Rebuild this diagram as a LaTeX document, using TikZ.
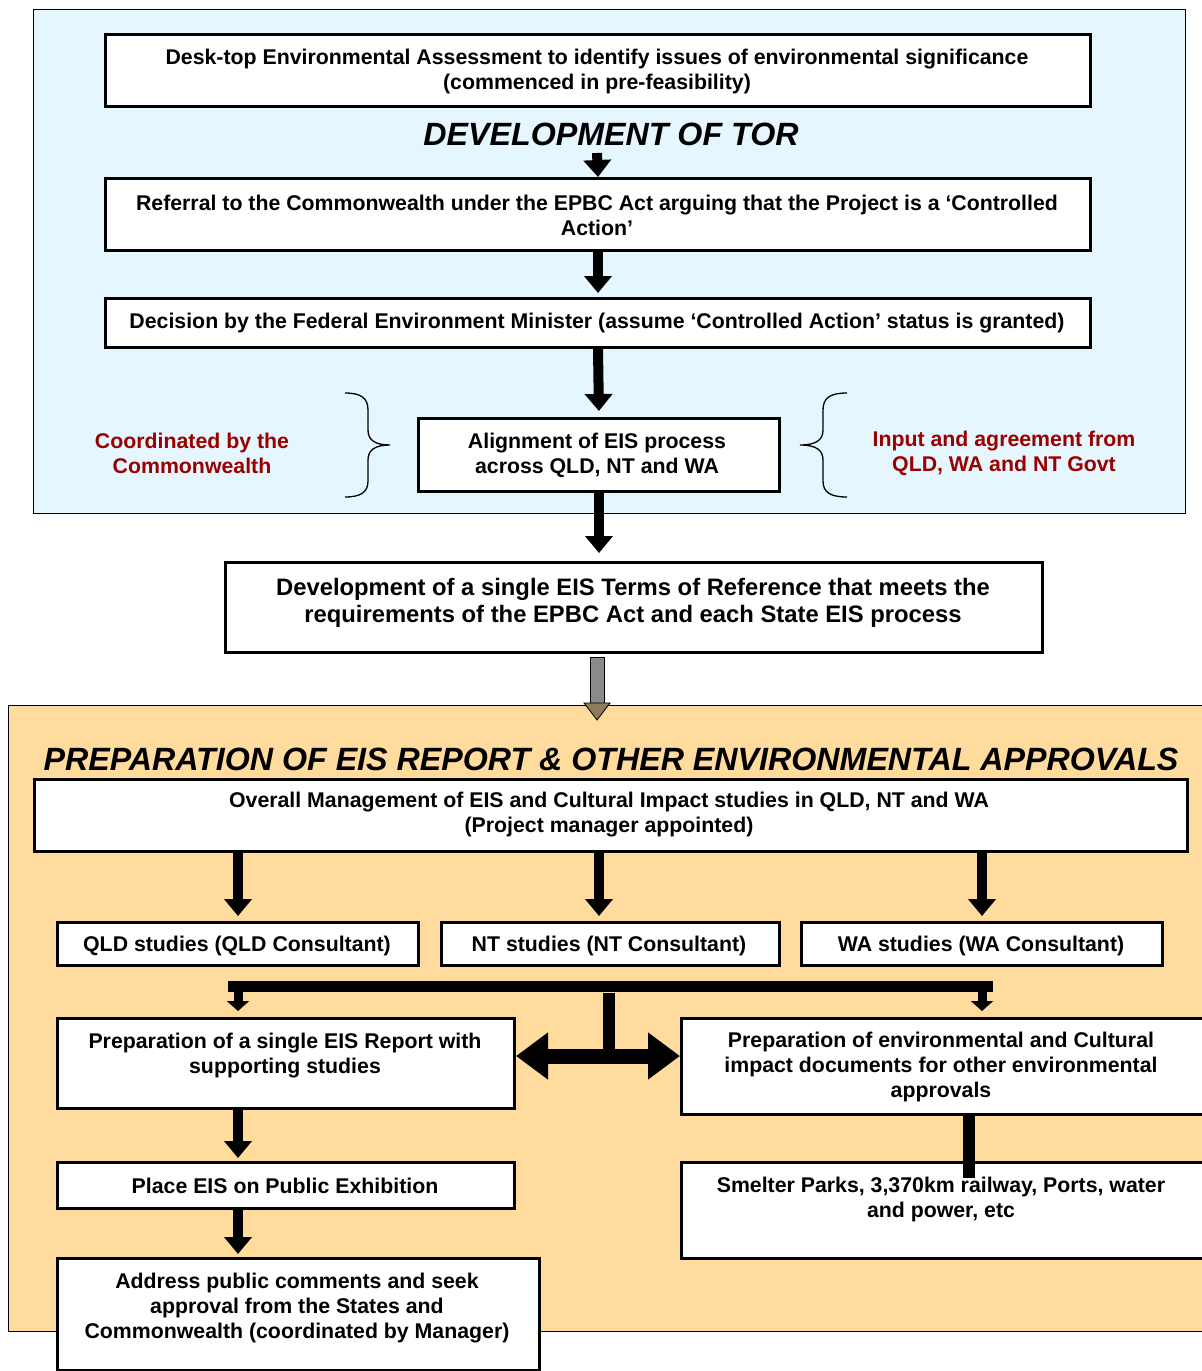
\documentclass[tikz,border=0pt]{standalone}
\usepackage{fontspec}
\setmainfont{Liberation Sans}
\usetikzlibrary{arrows.meta,calc}
\definecolor{paleblue}{HTML}{E6F6FE}
\definecolor{paleorange}{HTML}{FFDB9D}
\definecolor{darkred}{HTML}{990000}
\definecolor{headbrown}{HTML}{8C7B5C}
\definecolor{shaftgray}{HTML}{8A8A8A}
\newcommand\bodyfont{\fontsize{21.3}{25}\selectfont\bfseries}
\newcommand\bigfont{\fontsize{23.8}{27}\selectfont\bfseries}
\newcommand\titlefont{\fontsize{32.2}{36}\selectfont\bfseries\itshape}
\begin{document}
\begin{tikzpicture}[x=1pt,y=-1pt,
  frame/.style={draw=black,line width=3pt,fill=white,inner sep=0pt,anchor=north west},
  txt/.style={align=center,inner sep=0pt,font=\bodyfont},
  redtxt/.style={align=center,inner sep=0pt,font=\bodyfont,text=darkred},
  ttl/.style={inner sep=0pt,font=\titlefont},
  blk/.style={draw=black,line width=10pt,-{Triangle[length=17pt,width=27pt]}},
  blksmall/.style={draw=black,line width=9pt,-{Triangle[length=10pt,width=22pt]}},
  bar/.style={draw=black,line width=11pt},
  bracestyle/.style={draw=black,line width=1.3pt}]
\useasboundingbox (0,0) rectangle (1202,1371);
\fill[white] (0,0) rectangle (1202,1371);
% panels
\draw[fill=paleblue,line width=1pt] (33,9) rectangle (1185,513);
\draw[fill=paleorange,line width=1pt] (8,705) rectangle (1215,1331);

% top boxes
\node[frame,minimum width=985pt,minimum height=72pt] (b1) at (104,33) {};
\node[txt] (t1) at (597,71) {Desk-top Environmental Assessment to identify issues of environmental significance\\(commenced in pre-feasibility)};
\node[ttl] (tor) at (611,134) {DEVELOPMENT OF TOR};
\node[frame,minimum width=985pt,minimum height=72pt] (b2) at (104,177) {};
\node[txt] (t2) at (597,215) {Referral to the Commonwealth under the EPBC Act arguing that the Project is a ‘Controlled\\Action’};
\node[frame,minimum width=985pt,minimum height=49pt] (b3) at (104,297) {};
\node[txt] (t3) at (597,323) {Decision by the Federal Environment Minister (assume ‘Controlled Action’ status is granted)};
\node[frame,minimum width=361pt,minimum height=73pt] (b4) at (417,417) {};
\node[txt] (t4) at (597,455) {Alignment of EIS process\\across QLD, NT and WA};
\node[redtxt] (lc) at (192,453) {Coordinated by the\\Commonwealth};
\node[redtxt] (rc) at (1004,453) {Input and agreement from\\QLD, WA and NT Govt};
% braces
\draw[bracestyle] (345,393) .. controls (361,393) and (368,398) .. (368,410) -- (368,430) .. controls (368,440) and (375,445) .. (390,445) .. controls (375,445) and (368,450) .. (368,460) -- (368,481) .. controls (368,492) and (361,497) .. (345,497);
\draw[bracestyle] (847,393) .. controls (830,393) and (823,398) .. (823,410) -- (823,430) .. controls (823,440) and (816,445) .. (800,445) .. controls (816,445) and (823,450) .. (823,460) -- (823,481) .. controls (823,492) and (830,497) .. (847,497);

\node[frame,minimum width=817pt,minimum height=90pt] (b5) at (224,561) {};
\node[txt,font=\bigfont] (t5) at (633,603) {Development of a single EIS Terms of Reference that meets the\\requirements of the EPBC Act and each State EIS process};

% top arrows
\coordinate (a1) at (597,153);
\draw[blk] (a1) -- (b2.north);
\draw[blk,shorten >=4pt] (b2.south) -- (b3.north);
\draw[blk,shorten >=6pt] (b3.south) -- (b4.north);
\draw[blk,shorten >=8pt] (b4.south) -- (b4.south |- b5.north);

% gray arrow
\draw[fill=shaftgray,line width=0.8pt] (590,657) rectangle (604,703);
\draw[fill=headbrown,line width=0.8pt] (584,703) -- (610,703) -- (597,720) -- cycle;

% lower section
\node[ttl] (prepttl) at (611,759) {PREPARATION OF EIS REPORT \& OTHER ENVIRONMENTAL APPROVALS};
\node[frame,minimum width=1153pt,minimum height=72pt] (b6) at (33,778) {};
\node[txt] (t6) at (609,815) {Overall Management of EIS and Cultural Impact studies in QLD, NT and WA\\(Project manager appointed)};
\node[frame,minimum width=361pt,minimum height=43pt] (qld) at (56,921) {};
\node[txt] (tq) at (237,946) {QLD studies (QLD Consultant)};
\node[frame,minimum width=338pt,minimum height=43pt] (nt) at (440,921) {};
\node[txt] (tn) at (609,946) {NT studies (NT Consultant)};
\node[frame,minimum width=361pt,minimum height=43pt] (wa) at (800,921) {};
\node[txt] (tw) at (981,946) {WA studies (WA Consultant)};

\draw[blk,shorten >=5pt] (b6.south -| qld.north) -- (qld.north);
\draw[blk,shorten >=5pt] (b6.south -| b4.south) -- (b4.south |- nt.north);
\draw[blk,shorten >=5pt] (b6.south -| wa.north) -- (wa.north);

\node[frame,minimum width=457pt,minimum height=90pt] (prep) at (56,1017) {};
\node[txt] (tp) at (285,1056) {Preparation of a single EIS Report with\\supporting studies};
\node[frame,minimum width=522pt,minimum height=96pt] (rprep) at (680,1017) {};
\node[txt] (trp) at (941,1067) {Preparation of environmental and Cultural\\impact documents for other environmental\\approvals};

% bus
\coordinate (busL) at (228,986);
\coordinate (busR) at (993,986);
\draw[bar] (busL) -- (busR);
\draw[blksmall,shorten >=6pt] (qld.south |- busL) -- (qld.south |- prep.north);
\draw[blksmall,shorten >=6pt] (wa.south |- busL) -- (wa.south |- rprep.north);
\coordinate (stemtop) at (609,993);
\coordinate (stembot) at (609,1056);
\draw[draw=black,line width=12pt] (stemtop) -- (stembot);
\draw[draw=black,line width=15pt,{Triangle[length=32pt,width=45pt]}-{Triangle[length=32pt,width=45pt]}] (prep.east |- stembot) -- (rprep.west |- stembot);

\node[frame,minimum width=457pt,minimum height=46pt] (place) at (56,1161) {};
\node[txt] (tpl) at (285,1186) {Place EIS on Public Exhibition};
\node[frame,minimum width=482pt,minimum height=112pt] (addr) at (56,1257) {};
\node[txt] (tad) at (297,1308) {Address public comments and seek\\approval from the States and\\Commonwealth (coordinated by Manager)};
\node[frame,minimum width=522pt,minimum height=96pt] (smelt) at (680,1161) {};
\node[txt] (tsm) at (941,1199) {Smelter Parks, 3,370km railway, Ports, water\\and power, etc};

\draw[blk,shorten >=3pt] (prep.south -| qld.south) -- (qld.south |- place.north);
\draw[blk,shorten >=3pt] (place.south -| qld.south) -- (qld.south |- addr.north);
\coordinate (vb) at (969,1178);
\draw[draw=black,line width=12pt] (rprep.south -| vb) -- (vb);
\end{tikzpicture}
\end{document}
